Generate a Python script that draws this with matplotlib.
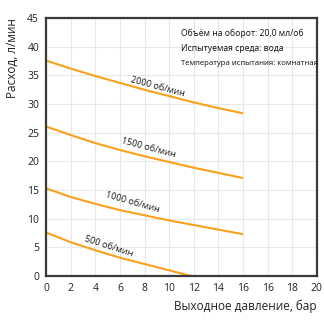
import matplotlib
matplotlib.use("Agg")
import matplotlib.pyplot as plt

plt.rcParams['font.family'] = ['Open Sans', 'DejaVu Sans']

# данные кривых (давление, бар -> расход, л/мин)
p = [0, 2, 4, 6, 8, 10, 12, 14, 16]
q2000 = [37.6, 36.2, 34.9, 33.7, 32.5, 31.4, 30.3, 29.3, 28.4]
q1500 = [26.1, 24.6, 23.2, 22.0, 20.9, 19.9, 18.9, 18.0, 17.1]
q1000 = [15.3, 13.8, 12.6, 11.5, 10.6, 9.7, 8.9, 8.1, 7.3]
p500 = [0, 2, 4, 6, 8, 10, 11.8]
q500 = [7.6, 5.9, 4.5, 3.2, 2.1, 1.0, 0.0]

xticks = [0, 2, 4, 6, 8, 10, 12, 14, 16, 18, 20, 22]
xlabels = ["0", "2", "4", "6", "8", "10", "12", "14", "16", "16", "18", "20"]
yticks = [0, 5, 10, 15, 20, 25, 30, 35, 40, 45]

info = ["Объём на оборот: 20,0 мл/об",
        "Испытуемая среда: вода",
        "Температура испытания: комнатная"]

orange = "#f9a11b"

fig = plt.figure(figsize=(3.24, 3.24), dpi=100)
ax = fig.add_axes([0.142, 0.148, 0.836, 0.796])

for x, y in [(p, q2000), (p, q1500), (p, q1000), (p500, q500)]:
    ax.plot(x, y, color=orange, lw=1.5, solid_capstyle="butt")

# подписи кривых
ax.text(9.1, 33.0, "2000 об/мин", rotation=-15, fontsize=6.6, ha="center", va="center", color="#1a1a1a")
ax.text(8.3, 22.4, "1500 об/мин", rotation=-15, fontsize=6.6, ha="center", va="center", color="#1a1a1a")
ax.text(7.0, 12.8, "1000 об/мин", rotation=-16, fontsize=6.6, ha="center", va="center", color="#1a1a1a")
ax.text(5.1, 5.2, "500 об/мин", rotation=-18, fontsize=6.6, ha="center", va="center", color="#1a1a1a")

# инфо блок
for i, s in enumerate(info):
    ax.text(0.5, 0.94 - i * 0.057, s, transform=ax.transAxes,
            fontsize=6.2 if i < 2 else 5.6, ha="left", va="center", color="#111")

ax.set_xlim(0, 22)
ax.set_ylim(0, 45)
ax.set_xticks(xticks)
ax.set_xticklabels(xlabels)
ax.set_yticks(yticks)
ax.grid(True, color="#e8e8e8", lw=0.8)
ax.set_axisbelow(True)
ax.tick_params(length=0, labelsize=7.5, colors="#222", pad=5)
for s in ax.spines.values():
    s.set_color("#3a3a3a")
    s.set_linewidth(1.6)

ax.set_xlabel("Выходное давление, бар", fontsize=8.5, color="#222", loc="right", labelpad=4)
ax.set_ylabel("Расход, л/мин", fontsize=8.5, color="#222", loc="top", labelpad=6)

fig.savefig("out.png", dpi=100)
